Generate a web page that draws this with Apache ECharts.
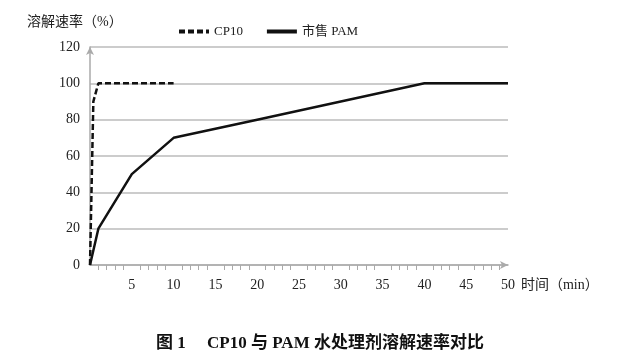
<!DOCTYPE html>
<html><head><meta charset="utf-8">
<script src="https://cdn.jsdelivr.net/npm/echarts@6/dist/echarts.min.js"></script>
<style>html,body{margin:0;padding:0;background:#fff}#c{width:640px;height:362px}</style>
</head><body><div id="c"></div>
<script>
const seriesNames = ['CP10', '市售 PAM'];
const cp10Data = [[0, 0], [0.4, 90], [1, 100], [10, 100]];
const pamData = [[0, 0], [1, 20], [5, 50], [10, 70], [20, 80], [40, 100], [50, 100]];
const yTicks = [0, 20, 40, 60, 80, 100, 120];
const xTicks = [5, 10, 15, 20, 25, 30, 35, 40, 45, 50];
const serif = '"Liberation Serif","Noto Sans CJK SC",serif';
const chart = echarts.init(document.getElementById('c'));
chart.setOption({
  animation: false,
  backgroundColor: '#fff',
  title: [
    {text: '溶解速率（%）', left: 22, top: 10, textStyle: {fontFamily: serif, fontSize: 14, fontWeight: 'normal', color: '#222'}},
    {text: '图 1　 CP10 与 PAM 水处理剂溶解速率对比', left: 'center', top: 330, textStyle: {fontFamily: serif, fontSize: 17, fontWeight: 'bold', color: '#111'}}
  ],
  legend: {
    top: 20, left: 172, itemGap: 22, itemWidth: 30, itemHeight: 12,
    textStyle: {fontFamily: serif, fontSize: 13, color: '#222'},
    itemStyle: {opacity: 0},
    lineStyle: {width: 4},
    data: seriesNames
  },
  grid: {left: 90, right: 132, top: 47, bottom: 97},
  xAxis: {
    type: 'value', min: 0, max: 50, interval: 5,
    name: '时间（min）', nameLocation: 'end', nameGap: 8,
    nameTextStyle: {fontFamily: serif, fontSize: 14, color: '#222', verticalAlign: 'top', padding: [13, 0, 0, 0]},
    axisLine: {show: true, lineStyle: {color: '#aaa', width: 1.5}, symbol: ['none', 'arrow'], symbolSize: [6, 8]},
    axisTick: {show: false},
    minorTick: {show: true, splitNumber: 5, length: 5, lineStyle: {color: '#aaa', width: 1}},
    splitLine: {show: false},
    axisLabel: {fontFamily: serif, fontSize: 14, color: '#222', margin: 13,
      formatter: v => xTicks.includes(v) ? String(v) : ''}
  },
  yAxis: {
    type: 'value', min: 0, max: 120, interval: 20,
    axisLine: {show: true, lineStyle: {color: '#aaa', width: 1.5}, symbol: ['none', 'arrow'], symbolSize: [6, 8]},
    axisTick: {show: false},
    splitLine: {show: true, lineStyle: {color: '#bbb', width: 1.5}},
    axisLabel: {fontFamily: serif, fontSize: 14, color: '#222', margin: 10,
      formatter: v => yTicks.includes(v) ? String(v) : ''}
  },
  series: [
    {name: seriesNames[0], type: 'line', data: cp10Data, showSymbol: false, symbol: 'none',
      lineStyle: {color: '#111', width: 2.5, type: [6, 3]}, itemStyle: {color: '#111'}},
    {name: seriesNames[1], type: 'line', data: pamData, showSymbol: false, symbol: 'none',
      lineStyle: {color: '#111', width: 2.5}, itemStyle: {color: '#111'}}
  ]
});
</script></body></html>
